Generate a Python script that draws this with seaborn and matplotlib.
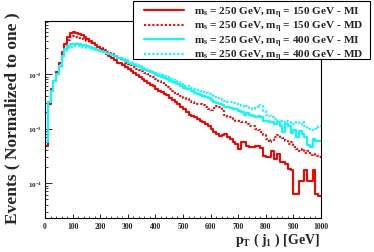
import numpy as np
import pandas as pd
import matplotlib
matplotlib.use("Agg")
import matplotlib.pyplot as plt
from matplotlib.patches import Rectangle
from matplotlib.ticker import MultipleLocator, LogLocator, NullFormatter
import seaborn as sns

# ── Data: normalized pT(j1) spectra, 10 GeV bins from 0 to 1000 GeV ──────────
bin_edges = np.arange(0, 1001, 10)

red_mi = [
    0.00048, 0.0028, 0.0053, 0.0074, 0.011, 0.016, 0.025, 0.036, 0.048, 0.056,
    0.059, 0.056, 0.054, 0.052, 0.048, 0.044, 0.040, 0.037, 0.034, 0.031,
    0.029, 0.027, 0.023, 0.021, 0.020, 0.018, 0.016, 0.016, 0.0146, 0.0134,
    0.0123, 0.0113, 0.0104, 0.0096, 0.0088, 0.0081, 0.0074, 0.0068, 0.0063, 0.0060,
    0.0053, 0.0049, 0.0047, 0.0043, 0.0041, 0.0036, 0.0033, 0.0031, 0.0028, 0.0025,
    0.0023, 0.0020, 0.0018, 0.0017, 0.0016, 0.0015, 0.0014, 0.0013, 0.0012, 0.0011,
    0.0010, 0.00087, 0.00079, 0.00073, 0.00076, 0.00079, 0.00070, 0.00064, 0.00057, 0.00052,
    0.00042, 0.00057, 0.00057, 0.00048, 0.00046, 0.00046, 0.00048, 0.00048, 0.00044, 0.00031,
    0.00030, 0.00030, 0.00039, 0.00028, 0.00034, 0.00024, 0.00024, 0.00022, 0.00018, 0.00017,
    0.000063, 0.000063, 0.00011, 0.00011, 0.00017, 0.00011, 0.00011, 0.00017, 0.000063, 0.000058,
]
red_md = [
    0.00048, 0.0029, 0.0052, 0.0074, 0.011, 0.016, 0.023, 0.033, 0.042, 0.048,
    0.050, 0.048, 0.046, 0.044, 0.042, 0.040, 0.037, 0.036, 0.033, 0.031,
    0.030, 0.028, 0.025, 0.024, 0.023, 0.021, 0.020, 0.019, 0.018, 0.016,
    0.015, 0.0146, 0.0134, 0.0123, 0.0118, 0.0113, 0.0104, 0.010, 0.0092, 0.0088,
    0.0081, 0.0074, 0.0068, 0.0063, 0.0058, 0.0053, 0.0049, 0.0045, 0.0043, 0.0040,
    0.0036, 0.0035, 0.0032, 0.0031, 0.0029, 0.0028, 0.0028, 0.0027, 0.0025, 0.0023,
    0.0022, 0.0024, 0.0026, 0.0025, 0.0021, 0.0018, 0.0016, 0.0016, 0.0015, 0.0014,
    0.0014, 0.0013, 0.0013, 0.0012, 0.0011, 0.0011, 0.0010, 0.00094, 0.00087, 0.00076,
    0.00064, 0.00057, 0.00062, 0.00070, 0.00076, 0.00070, 0.00067, 0.00059, 0.00052, 0.00057,
    0.00046, 0.00042, 0.00039, 0.00042, 0.00036, 0.00038, 0.00033, 0.00034, 0.00031, 0.00030,
]
cyan_mi = [
    0.00056, 0.0031, 0.0049, 0.0074, 0.010, 0.014, 0.021, 0.029, 0.033, 0.036,
    0.036, 0.036, 0.036, 0.034, 0.034, 0.033, 0.032, 0.030, 0.029, 0.028,
    0.027, 0.025, 0.024, 0.023, 0.022, 0.021, 0.020, 0.020, 0.018, 0.017,
    0.016, 0.015, 0.0146, 0.0140, 0.0134, 0.0123, 0.0118, 0.0113, 0.0109, 0.0104,
    0.0096, 0.0092, 0.0088, 0.0084, 0.0081, 0.0074, 0.0071, 0.0068, 0.0066, 0.0060,
    0.0055, 0.0053, 0.0053, 0.0049, 0.0045, 0.0043, 0.0041, 0.0040, 0.0038, 0.0036,
    0.0033, 0.0031, 0.0029, 0.0028, 0.0027, 0.0025, 0.0025, 0.0024, 0.0023, 0.0023,
    0.0021, 0.0020, 0.0018, 0.0019, 0.0018, 0.0017, 0.0016, 0.0017, 0.0016, 0.0014,
    0.0014, 0.0013, 0.0013, 0.0012, 0.0013, 0.0011, 0.00087, 0.0012, 0.0011, 0.00083,
    0.00094, 0.00070, 0.00091, 0.00079, 0.00070, 0.00050, 0.00046, 0.00064, 0.00059, 0.00059,
]
cyan_md = [
    0.00056, 0.0031, 0.0049, 0.0074, 0.010, 0.0134, 0.020, 0.025, 0.030, 0.031,
    0.033, 0.033, 0.033, 0.031, 0.031, 0.030, 0.030, 0.029, 0.028, 0.027,
    0.025, 0.025, 0.024, 0.023, 0.022, 0.021, 0.020, 0.020, 0.019, 0.018,
    0.016, 0.016, 0.015, 0.0146, 0.0140, 0.0128, 0.0123, 0.0118, 0.0113, 0.0109,
    0.0104, 0.010, 0.0096, 0.0092, 0.0088, 0.0081, 0.0078, 0.0074, 0.0071, 0.0066,
    0.0060, 0.0060, 0.0058, 0.0055, 0.0053, 0.0051, 0.0049, 0.0047, 0.0045, 0.0043,
    0.0041, 0.0038, 0.0036, 0.0035, 0.0033, 0.0032, 0.0031, 0.0031, 0.0029, 0.0028,
    0.0027, 0.0026, 0.0025, 0.0026, 0.0024, 0.0023, 0.0025, 0.0027, 0.0026, 0.0021,
    0.0018, 0.0017, 0.0016, 0.0015, 0.0014, 0.0014, 0.0013, 0.0014, 0.0013, 0.0012,
    0.0012, 0.0013, 0.0012, 0.0013, 0.0011, 0.0010, 0.00094, 0.00094, 0.0010, 0.0011,
]

series_labels = [
    r"m$_{\rm s}$ = 250 GeV, m$_{\eta}$ = 150 GeV - MI",
    r"m$_{\rm s}$ = 250 GeV, m$_{\eta}$ = 150 GeV - MD",
    r"m$_{\rm s}$ = 250 GeV, m$_{\eta}$ = 400 GeV - MI",
    r"m$_{\rm s}$ = 250 GeV, m$_{\eta}$ = 400 GeV - MD",
]
series_values = [red_mi, red_md, cyan_mi, cyan_md]
series_colors = ["#ff0000", "#ff0000", "#00ffff", "#00ffff"]
series_styles = ["-", (0, (1, 1)), "-", (0, (1, 1))]

# ── Style (ROOT-like look) ──────────────────────────────────────────────────
sns.set_theme(style="ticks")
plt.rcParams.update({
    "font.family": ["Liberation Serif", "DejaVu Serif"],
    "font.weight": "bold",
    "mathtext.fontset": "custom",
    "mathtext.rm": "Liberation Serif:bold",
    "mathtext.it": "Liberation Serif:bold",
    "mathtext.bf": "Liberation Serif:bold",
    "axes.edgecolor": "black",
    "axes.linewidth": 0.8,
    "xtick.direction": "in",
    "ytick.direction": "in",
})

fig = plt.figure(figsize=(3.74, 2.53), dpi=100)
ax = fig.add_axes([45 / 374, 1 - 219 / 253, 276 / 374, 197 / 253])

for vals, lab, col, ls in zip(series_values, series_labels, series_colors, series_styles):
    df = pd.DataFrame({"pt": bin_edges, "frac": list(vals) + [vals[-1]]})
    sns.lineplot(data=df, x="pt", y="frac", ax=ax, color=col, linestyle=ls,
                 linewidth=1.5, drawstyle="steps-post", sort=False,
                 estimator=None, label=lab)

ax.set_yscale("log")
ax.set_xlim(0, 1000)
ax.set_ylim(2.28e-5, 0.094)
ax.set_xlabel("")
ax.set_ylabel("")

ax.xaxis.set_major_locator(MultipleLocator(100))
ax.xaxis.set_minor_locator(MultipleLocator(20))
ax.yaxis.set_major_locator(LogLocator(base=10))
ax.yaxis.set_minor_locator(LogLocator(base=10, subs=np.arange(2, 10)))
ax.yaxis.set_minor_formatter(NullFormatter())
ax.tick_params(axis="x", which="major", length=3, width=0.7, labelsize=5.5, pad=3)
ax.tick_params(axis="x", which="minor", length=1.8, width=0.6)
ax.tick_params(axis="y", which="major", length=5, width=0.7, labelsize=5, pad=2)
ax.tick_params(axis="y", which="minor", length=2.5, width=0.6)
ax.tick_params(top=False, right=False, which="both")

fig.text(320 / 374, 1 - 240 / 253, r"p$_{\rm T}$ ( j$_{1}$ ) [GeV]",
         ha="right", va="center", fontsize=10, fontweight="bold")
fig.text(12 / 374, 1 - 118 / 253, "Events ( Normalized to one )",
         rotation=90, ha="center", va="center", fontsize=12.5, fontweight="bold")

# legend box drawn separately so the inner padding can match the original
box = Rectangle((133 / 374, 1 - 60 / 253), 237 / 374, 58 / 253,
                transform=fig.transFigure, facecolor="white",
                edgecolor="black", linewidth=0.8, zorder=4)
fig.add_artist(box)

ax.get_legend().remove()
handles, labels = ax.get_legend_handles_labels()
leg = fig.legend(handles, labels, loc="upper left",
                 bbox_to_anchor=(143 / 374, 1 - 4.5 / 253), fontsize=8.1,
                 frameon=False, handlelength=3.5, handletextpad=0.9,
                 labelspacing=-0.05, borderpad=0.1, borderaxespad=0)
leg.set_zorder(5)

fig.savefig("out.png", dpi=100)
